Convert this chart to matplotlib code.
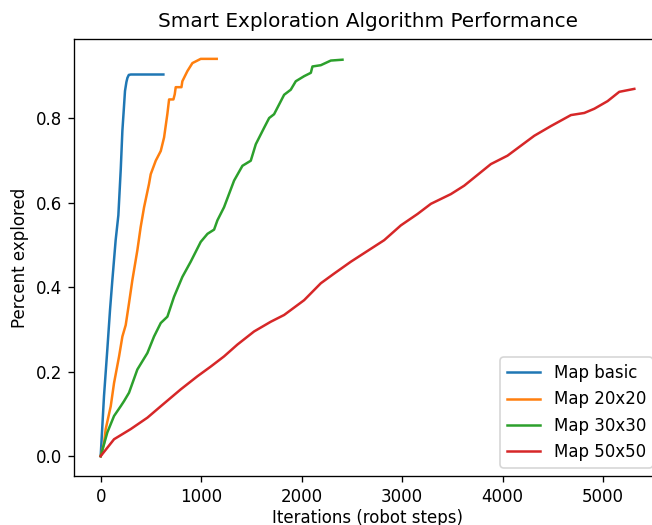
import matplotlib
matplotlib.use("Agg")
import matplotlib.pyplot as plt

# Map basic
basic_x = [0, 33, 66, 93, 116, 149, 176, 200, 216, 230, 242, 256, 266, 280, 300, 624]
basic_y = [0, 0.142, 0.252, 0.346, 0.416, 0.511, 0.57, 0.68, 0.77, 0.82, 0.864, 0.885, 0.895, 0.902, 0.903, 0.903]

# Map 20x20
m20_x = [0, 33, 50, 100, 133, 183, 216, 249, 282, 315, 365, 398, 432, 481, 498, 548, 598, 631,
         664, 681, 724, 737, 747, 804, 813, 863, 913, 996, 1155]
m20_y = [0, 0.03, 0.064, 0.118, 0.173, 0.236, 0.283, 0.31, 0.362, 0.416, 0.487, 0.542, 0.589, 0.644,
         0.667, 0.699, 0.722, 0.754, 0.81, 0.844, 0.844, 0.856, 0.873, 0.873, 0.887, 0.911,
         0.930, 0.940, 0.940]

# Map 30x30
m30_x = [0, 66, 133, 199, 232, 282, 365, 465, 531, 598, 664, 730, 813, 896, 996, 1063, 1129,
         1162, 1228, 1328, 1411, 1494, 1544, 1627, 1677, 1726, 1826, 1892, 1942, 2025, 2092,
         2108, 2191, 2291, 2407]
m30_y = [0, 0.056, 0.095, 0.118, 0.13, 0.15, 0.205, 0.244, 0.283, 0.315, 0.33, 0.377, 0.424,
         0.46, 0.507, 0.526, 0.536, 0.558, 0.589, 0.652, 0.687, 0.699, 0.738, 0.777, 0.80,
         0.809, 0.855, 0.867, 0.887, 0.899, 0.907, 0.922, 0.925, 0.936, 0.938]

# Map 50x50
m50_x = [0, 133, 299, 465, 598, 797, 963, 1096, 1228, 1361, 1527, 1693, 1826, 2025, 2191,
         2324, 2490, 2822, 2988, 3154, 3287, 3486, 3619, 3884, 4050, 4316, 4482, 4681, 4814,
         4914, 5046, 5162, 5312]
m50_y = [0, 0.04, 0.064, 0.091, 0.118, 0.158, 0.189, 0.212, 0.236, 0.264, 0.295, 0.318, 0.334,
         0.369, 0.409, 0.432, 0.46, 0.511, 0.546, 0.573, 0.597, 0.62, 0.64, 0.691, 0.711, 0.758,
         0.781, 0.807, 0.812, 0.822, 0.84, 0.862, 0.869]

DPI = 120
fig = plt.figure(figsize=(652 / DPI, 525 / DPI), dpi=DPI)
# right spine falls just outside the (cropped) figure, as in the reference
ax = fig.add_axes([74 / 652, 49 / 525, 587 / 652, 437 / 525])

ax.plot(basic_x, basic_y, label="Map basic")
ax.plot(m20_x, m20_y, label="Map 20x20")
ax.plot(m30_x, m30_y, label="Map 30x30")
ax.plot(m50_x, m50_y, label="Map 50x50")

ax.set_title("Smart Exploration Algorithm Performance", pad=7)
ax.set_xlabel("Iterations (robot steps)", labelpad=2)
ax.set_ylabel("Percent explored")
ax.legend(loc="lower right")

fig.savefig("out.png", dpi=DPI)
